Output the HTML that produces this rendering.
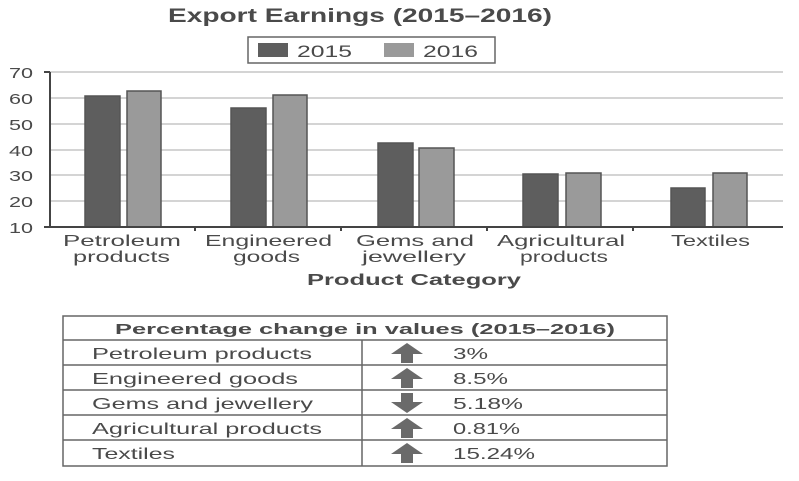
<!DOCTYPE html>
<html><head><style>
body{margin:0;background:#fff;}
svg text{font-family:"Liberation Sans",Arial,sans-serif;fill:#4a4a4a;}
</style></head><body>
<svg width="799" height="476" viewBox="0 0 799 476" xmlns="http://www.w3.org/2000/svg">
<text x="168" y="22" font-size="19" font-weight="bold" textLength="384" lengthAdjust="spacingAndGlyphs">Export Earnings (2015–2016)</text>
<rect x="248" y="37" width="247" height="26" fill="#fff" stroke="#666" stroke-width="1.5"/>
<rect x="258" y="43" width="30" height="14" fill="#5e5e5e"/>
<text x="297" y="57" font-size="17" textLength="55" lengthAdjust="spacingAndGlyphs">2015</text>
<rect x="384" y="43" width="30" height="14" fill="#9a9a9a"/>
<text x="423" y="57" font-size="17" textLength="55" lengthAdjust="spacingAndGlyphs">2016</text>
<g stroke="#aaa" stroke-width="1">
<line x1="50" y1="72" x2="783" y2="72"/><line x1="50" y1="98" x2="783" y2="98"/>
<line x1="50" y1="124" x2="783" y2="124"/><line x1="50" y1="150" x2="783" y2="150"/>
<line x1="50" y1="175" x2="783" y2="175"/><line x1="50" y1="201" x2="783" y2="201"/>
</g>
<g font-size="15">
<text x="9" y="78" textLength="24" lengthAdjust="spacingAndGlyphs">70</text><text x="9" y="104" textLength="24" lengthAdjust="spacingAndGlyphs">60</text><text x="9" y="130" textLength="24" lengthAdjust="spacingAndGlyphs">50</text>
<text x="9" y="156" textLength="24" lengthAdjust="spacingAndGlyphs">40</text><text x="9" y="181" textLength="24" lengthAdjust="spacingAndGlyphs">30</text><text x="9" y="207" textLength="24" lengthAdjust="spacingAndGlyphs">20</text><text x="9" y="233" textLength="24" lengthAdjust="spacingAndGlyphs">10</text>
</g>
<g stroke="#555" stroke-width="1.5">
<rect x="85" y="96" width="35" height="131" fill="#5e5e5e"/><rect x="127" y="91" width="34" height="136" fill="#9a9a9a"/>
<rect x="231" y="108" width="35" height="119" fill="#5e5e5e"/><rect x="273" y="95" width="34" height="132" fill="#9a9a9a"/>
<rect x="378" y="143" width="35" height="84" fill="#5e5e5e"/><rect x="419" y="148" width="35" height="79" fill="#9a9a9a"/>
<rect x="523" y="174" width="35" height="53" fill="#5e5e5e"/><rect x="566" y="173" width="35" height="54" fill="#9a9a9a"/>
<rect x="671" y="188" width="34" height="39" fill="#5e5e5e"/><rect x="713" y="173" width="34" height="54" fill="#9a9a9a"/>
</g>
<g stroke="#444" stroke-width="2">
<line x1="50" y1="72" x2="50" y2="228"/><line x1="44" y1="227" x2="783" y2="227"/>
<line x1="44" y1="72" x2="50" y2="72"/>
<line x1="195" y1="227" x2="195" y2="231"/><line x1="341" y1="227" x2="341" y2="231"/>
<line x1="487" y1="227" x2="487" y2="231"/><line x1="633" y1="227" x2="633" y2="231"/>
</g>
<g font-size="16">
<text x="63" y="246" textLength="118" lengthAdjust="spacingAndGlyphs">Petroleum</text><text x="73" y="262" textLength="97" lengthAdjust="spacingAndGlyphs">products</text>
<text x="205" y="246" textLength="127" lengthAdjust="spacingAndGlyphs">Engineered</text><text x="233" y="262" textLength="67" lengthAdjust="spacingAndGlyphs">goods</text>
<text x="356" y="246" textLength="118" lengthAdjust="spacingAndGlyphs">Gems and</text><text x="362" y="262" textLength="104" lengthAdjust="spacingAndGlyphs">jewellery</text>
<text x="497" y="246" textLength="128" lengthAdjust="spacingAndGlyphs">Agricultural</text><text x="520" y="262" textLength="88" lengthAdjust="spacingAndGlyphs">products</text>
<text x="671" y="246" textLength="79" lengthAdjust="spacingAndGlyphs">Textiles</text>
</g>
<text x="307" y="285" font-size="16" font-weight="bold" textLength="214" lengthAdjust="spacingAndGlyphs">Product Category</text>
<g stroke="#666" stroke-width="1.5" fill="none">
<rect x="63" y="316" width="604" height="150"/>
<line x1="63" y1="340" x2="667" y2="340"/><line x1="63" y1="365" x2="667" y2="365"/>
<line x1="63" y1="390" x2="667" y2="390"/><line x1="63" y1="415" x2="667" y2="415"/>
<line x1="63" y1="440" x2="667" y2="440"/><line x1="362" y1="340" x2="362" y2="466"/>
</g>
<text x="115" y="334" font-size="15" font-weight="bold" textLength="500" lengthAdjust="spacingAndGlyphs">Percentage change in values (2015–2016)</text>
<g font-size="16">
<text x="92" y="359" textLength="220" lengthAdjust="spacingAndGlyphs">Petroleum products</text><text x="92" y="384" textLength="206" lengthAdjust="spacingAndGlyphs">Engineered goods</text>
<text x="92" y="409" textLength="221" lengthAdjust="spacingAndGlyphs">Gems and jewellery</text><text x="92" y="434" textLength="230" lengthAdjust="spacingAndGlyphs">Agricultural products</text>
<text x="92" y="459" textLength="83" lengthAdjust="spacingAndGlyphs">Textiles</text>
<text x="453" y="359" textLength="35" lengthAdjust="spacingAndGlyphs">3%</text><text x="453" y="384" textLength="55" lengthAdjust="spacingAndGlyphs">8.5%</text><text x="453" y="409" textLength="70" lengthAdjust="spacingAndGlyphs">5.18%</text>
<text x="453" y="434" textLength="67" lengthAdjust="spacingAndGlyphs">0.81%</text><text x="453" y="459" textLength="82" lengthAdjust="spacingAndGlyphs">15.24%</text>
</g>
<g fill="#6a6a6a">
<path d="M407 343 L423 354 L413 354 L413 363 L401 363 L401 354 L391 354 Z"/>
<path d="M407 368 L423 379 L413 379 L413 388 L401 388 L401 379 L391 379 Z"/>
<path d="M407 413 L423 402 L413 402 L413 393 L401 393 L401 402 L391 402 Z"/>
<path d="M407 418 L423 429 L413 429 L413 438 L401 438 L401 429 L391 429 Z"/>
<path d="M407 443 L423 454 L413 454 L413 463 L401 463 L401 454 L391 454 Z"/>
</g>
</svg>
</body></html>
